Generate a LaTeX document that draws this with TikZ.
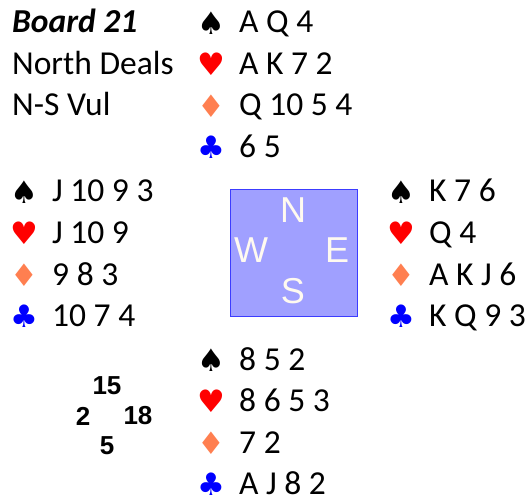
\documentclass[tikz,border=0pt]{standalone}
\usepackage{fontspec}
\setmainfont{Carlito}
\newfontfamily\symfont{DejaVu Sans}
\newfontfamily\arialfont{Liberation Sans}
\definecolor{heartred}{RGB}{255,0,0}
\definecolor{diamorange}{RGB}{255,127,80}
\definecolor{clubblue}{RGB}{0,0,255}
\definecolor{tablefill}{RGB}{160,160,255}
\definecolor{tableline}{RGB}{60,60,255}
\definecolor{dirwhite}{RGB}{255,250,240}
\tikzset{
    cards/.style={anchor=base west,inner sep=0pt,font=\fontsize{33.5}{40}\selectfont},
    suit/.style={anchor=center,inner sep=0pt,font=\symfont\fontsize{31}{31}\selectfont},
    dir/.style={inner sep=0pt,text=dirwhite,font=\arialfont\fontsize{36}{36}\selectfont},
    hcp/.style={inner sep=0pt,font=\arialfont\bfseries\fontsize{26}{26}\selectfont},
}
% #1 name, #2 x of suit symbols, #3 baseline of first row, #4-#7 the four suits
\newcommand{\Hand}[7]{%
    \node[suit,text=black]      (#1-s) at (#2,#3-10)      {♠};
    \node[suit,text=heartred]   (#1-h) at (#2,#3+31.5)    {♥};
    \node[suit,text=diamorange] (#1-d) at (#2,#3+73)      {♦};
    \node[suit,text=clubblue]   (#1-c) at (#2,#3+114.5)   {♣};
    \node[cards] (#1-st) at (#2+28,#3)       {#4};
    \node[cards] (#1-ht) at (#2+28,#3+41.5)  {#5};
    \node[cards] (#1-dt) at (#2+28,#3+83)    {#6};
    \node[cards] (#1-ct) at (#2+28,#3+124.5) {#7};
}
\begin{document}
\begin{tikzpicture}[x=1pt,y=-1pt]
    \useasboundingbox (0,0) rectangle (529,502);

    \node[cards] (board) at (12,33)  {\textbf{\textit{Board 21}}};
    \node[cards] (dealer) at (12,74.5) {North Deals};
    \node[cards] (vul) at (12,116) {N-S Vul};

    \Hand{north}{211}{33}{A Q 4}{A K 7 2}{Q 10 5 4}{6 5}
    \Hand{west}{24}{202}{J 10 9 3}{J 10 9}{9 8 3}{10 7 4}
    \Hand{east}{401}{202}{K 7 6}{Q 4}{A K J 6}{K Q 9 3}
    \Hand{south}{211}{370}{8 5 2}{8 6 5 3}{7 2}{A J 8 2}

    % the table
    \draw[tableline,fill=tablefill] (230,189) rectangle (357,316);
    \node[dir] (dir-n) at (293,210) {N};
    \node[dir] (dir-w) at (251,250) {W};
    \node[dir] (dir-e) at (337,250) {E};
    \node[dir] (dir-s) at (293,291) {S};

    % points
    \node[hcp] (hcp-n) at (107,386) {15};
    \node[hcp] (hcp-w) at (83,416)  {2};
    \node[hcp] (hcp-e) at (138,416) {18};
    \node[hcp] (hcp-s) at (107,446) {5};
\end{tikzpicture}
\end{document}
